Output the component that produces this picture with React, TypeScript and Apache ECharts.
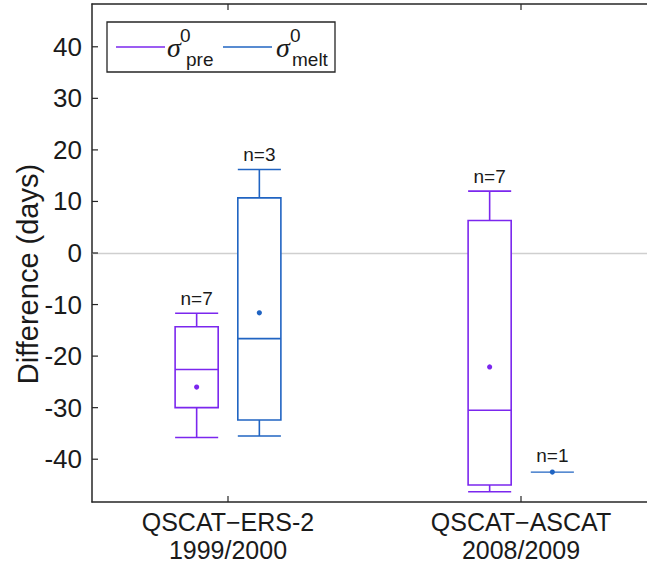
import React, { useEffect, useRef } from "react";
import * as echarts from "echarts";

const groupLabels = ["QSCAT\u2212ERS-2\n1999/2000", "QSCAT\u2212ASCAT\n2008/2009"];
const groupPos = [1, 2];
const yTicks = [-40, -30, -20, -10, 0, 10, 20, 30, 40];

const preLower = [-35.8, -46.3];
const preQ1 = [-30.0, -45.0];
const preMedian = [-22.6, -30.5];
const preQ3 = [-14.3, 6.3];
const preUpper = [-11.7, 12.0];
const preMean = [-26.0, -22.1];
const preN = [7, 7];

const meltLower = [-35.5, -42.5];
const meltQ1 = [-32.4, -42.5];
const meltMedian = [-16.6, -42.5];
const meltQ3 = [10.7, -42.5];
const meltUpper = [16.2, -42.5];
const meltMean = [-11.6, -42.5];
const meltN = [3, 1];

const PURPLE = "#7b27ee";
const BLUE = "#2064c2";
const AXIS = "#262626";
const FONT = "Liberation Sans";
const OFFSET = 0.107;
const BOXW = 0.147;
const X_MIN = 1 - 136 / 293;
const X_MAX = 1 + (647 - 228) / 293;
const TICK_LEN = 6;

function buildData(offset: number, lo: number[], q1: number[], md: number[], q3: number[], up: number[], mn: number[], n: number[]) {
  return groupPos.map((g, i) => [g + offset, lo[i], q1[i], md[i], q3[i], up[i], mn[i], n[i]]);
}

function makeRender(color: string) {
  return (params: any, api: any) => {
    const x = api.value(0);
    const pLo = api.coord([x, api.value(1)]);
    const pQ1 = api.coord([x, api.value(2)]);
    const pMd = api.coord([x, api.value(3)]);
    const pQ3 = api.coord([x, api.value(4)]);
    const pUp = api.coord([x, api.value(5)]);
    const pMn = api.coord([x, api.value(6)]);
    const n = api.value(7);
    const hw = api.size([BOXW, 0])[0] / 2;
    const cx = pLo[0];
    const lw = n > 1 ? 1.6 : 1.1;
    const st = { stroke: color, lineWidth: lw, fill: "none" };
    const children: any[] = [];
    if (n > 1) {
      children.push(
        { type: "line", shape: { x1: cx, y1: pUp[1], x2: cx, y2: pQ3[1] }, style: st },
        { type: "line", shape: { x1: cx, y1: pQ1[1], x2: cx, y2: pLo[1] }, style: st },
        { type: "line", shape: { x1: cx - hw, y1: pUp[1], x2: cx + hw, y2: pUp[1] }, style: st },
        { type: "line", shape: { x1: cx - hw, y1: pLo[1], x2: cx + hw, y2: pLo[1] }, style: st },
        { type: "rect", shape: { x: cx - hw, y: pQ3[1], width: 2 * hw, height: pQ1[1] - pQ3[1] }, style: { stroke: color, lineWidth: lw, fill: "#fff" } },
        { type: "line", shape: { x1: cx - hw, y1: pMd[1], x2: cx + hw, y2: pMd[1] }, style: st }
      );
    } else {
      children.push({ type: "line", shape: { x1: cx - hw, y1: pMd[1], x2: cx + hw, y2: pMd[1] }, style: st });
    }
    children.push({ type: "circle", shape: { cx: cx, cy: pMn[1], r: 2.6 }, style: { fill: color } });
    children.push({
      type: "text",
      x: cx,
      y: pUp[1] - (n > 1 ? 15 : 17),
      style: { text: "n=" + n, fontFamily: FONT, fontSize: 19, fill: "#1a1a1a", align: "center", verticalAlign: "middle" },
    });
    return { type: "group", children };
  };
}

// inward-pointing axis ticks, positioned through the axis scales
const tickData = [
  ...yTicks.map((v) => [0, v]),
  ...groupPos.map((v) => [1, v]),
];

function renderTick(params: any, api: any) {
  const kind = api.value(0);
  const v = api.value(1);
  const cs = params.coordSys;
  const st = { stroke: AXIS, lineWidth: 1.2 };
  if (kind === 0) {
    const p = api.coord([X_MIN, v]);
    return { type: "line", shape: { x1: cs.x, y1: p[1], x2: cs.x + TICK_LEN, y2: p[1] }, style: st };
  }
  const p = api.coord([v, 0]);
  const yb = cs.y + cs.height;
  const yt = cs.y;
  return {
    type: "group",
    children: [
      { type: "line", shape: { x1: p[0], y1: yb, x2: p[0], y2: yb - TICK_LEN }, style: st },
      { type: "line", shape: { x1: p[0], y1: yt, x2: p[0], y2: yt + TICK_LEN }, style: st },
    ],
  };
}

export default function App() {
  const ref = useRef<HTMLDivElement>(null);
  useEffect(() => {
    if (!ref.current) return;
    const chart = echarts.init(ref.current, undefined, { renderer: "svg" });
    const option: any = {
      animation: false,
      backgroundColor: "#fff",
      grid: { left: 92, top: 4, right: 0, bottom: 65, containLabel: false, outerBoundsMode: "none" },
      xAxis: [
        {
          type: "value",
          min: X_MIN,
          max: X_MAX,
          position: "bottom",
          axisLine: { show: true, onZero: false, lineStyle: { color: AXIS, width: 1.5 } },
          axisTick: { show: false },
          axisLabel: {
            show: true,
            customValues: groupPos,
            margin: 6,
            fontFamily: FONT,
            fontSize: 25,
            lineHeight: 28,
            color: "#1a1a1a",
            formatter: (v: number) => {
              const r = Math.round(v);
              const i = groupPos.indexOf(r);
              return i >= 0 && Math.abs(v - r) < 1e-6 ? groupLabels[i] : "";
            },
          },
          splitLine: { show: false },
        },
        {
          type: "value",
          min: X_MIN,
          max: X_MAX,
          position: "top",
          axisLine: { show: true, onZero: false, lineStyle: { color: AXIS, width: 1.5 } },
          axisTick: { show: false },
          axisLabel: { show: false },
          splitLine: { show: false },
        },
      ],
      yAxis: {
        type: "value",
        min: -48.3,
        max: 48.3,
        name: "Difference (days)",
        nameLocation: "middle",
        nameGap: 50,
        nameMoveOverlap: false,
        nameTextStyle: { fontFamily: FONT, fontSize: 29, color: "#1a1a1a", padding: [0, 42, 0, 0] },
        axisLine: { show: true, onZero: false, lineStyle: { color: AXIS, width: 1.5 } },
        axisTick: { show: false },
        axisLabel: { customValues: yTicks, margin: 10, fontFamily: FONT, fontSize: 26, color: "#1a1a1a" },
        splitLine: { show: false },
      },
      graphic: [
        { type: "rect", shape: { x: 107, y: 22, width: 228, height: 50 }, style: { fill: "#fff", stroke: AXIS, lineWidth: 1.3 }, z: 100 },
        { type: "line", shape: { x1: 116, y1: 47, x2: 165, y2: 47 }, style: { stroke: PURPLE, lineWidth: 1.6 }, z: 101 },
        { type: "text", x: 167, y: 47, style: { text: "\u03c3", fontFamily: "Liberation Serif", fontStyle: "italic", fontSize: 28, fill: "#1a1a1a", verticalAlign: "middle" }, z: 101 },
        { type: "text", x: 180, y: 35, style: { text: "0", fontFamily: FONT, fontSize: 19, fill: "#1a1a1a", verticalAlign: "middle" }, z: 101 },
        { type: "text", x: 186, y: 59, style: { text: "pre", fontFamily: FONT, fontSize: 19, fill: "#1a1a1a", verticalAlign: "middle" }, z: 101 },
        { type: "line", shape: { x1: 223, y1: 47, x2: 272, y2: 47 }, style: { stroke: BLUE, lineWidth: 1.6 }, z: 101 },
        { type: "text", x: 276, y: 47, style: { text: "\u03c3", fontFamily: "Liberation Serif", fontStyle: "italic", fontSize: 28, fill: "#1a1a1a", verticalAlign: "middle" }, z: 101 },
        { type: "text", x: 290, y: 35, style: { text: "0", fontFamily: FONT, fontSize: 19, fill: "#1a1a1a", verticalAlign: "middle" }, z: 101 },
        { type: "text", x: 292, y: 59, style: { text: "melt", fontFamily: FONT, fontSize: 19, fill: "#1a1a1a", verticalAlign: "middle" }, z: 101 },
      ],
      series: [
        {
          type: "custom",
          name: "ticks",
          xAxisIndex: 0,
          renderItem: renderTick,
          encode: { x: -1, y: 1 },
          data: tickData,
          clip: false,
          silent: true,
          z: 5,
        },
        {
          type: "custom",
          name: "pre",
          xAxisIndex: 0,
          renderItem: makeRender(PURPLE),
          encode: { x: 0, y: [1, 2, 3, 4, 5, 6] },
          data: buildData(-OFFSET, preLower, preQ1, preMedian, preQ3, preUpper, preMean, preN),
          clip: false,
          z: 3,
          markLine: {
            silent: true,
            symbol: "none",
            label: { show: false },
            emphasis: { disabled: true },
            lineStyle: { color: "#cfcfcf", width: 1.3, type: "solid", opacity: 1 },
            data: [{ yAxis: 0 }],
            z: 1,
          },
        },
        {
          type: "custom",
          name: "melt",
          xAxisIndex: 0,
          renderItem: makeRender(BLUE),
          encode: { x: 0, y: [1, 2, 3, 4, 5, 6] },
          data: buildData(OFFSET, meltLower, meltQ1, meltMedian, meltQ3, meltUpper, meltMean, meltN),
          clip: false,
          z: 3,
        },
      ],
    };
    chart.setOption(option);
    return () => chart.dispose();
  }, []);
  return <div ref={ref} style={{ position: "absolute", left: 0, top: 0, width: 647, height: 567 }} />;
}
